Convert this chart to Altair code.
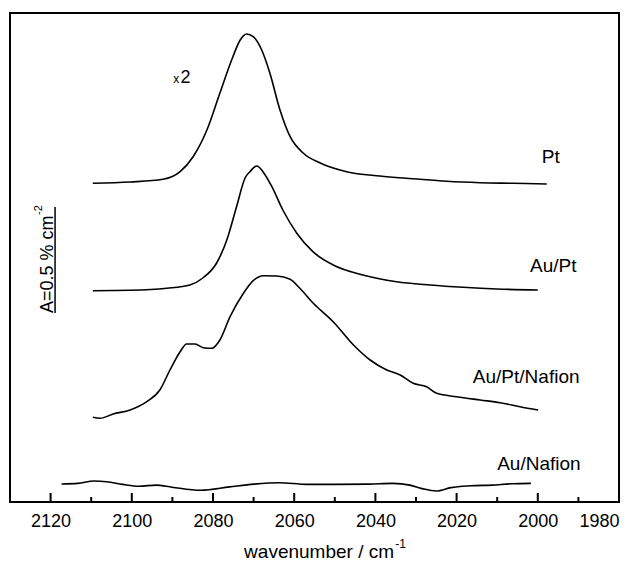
import altair as alt
import pandas as pd

# ---- data (x: wavenumber / cm-1, y: stacked absorbance, arbitrary units) ----
pt_wn = [2109.6, 2100.4, 2092.3, 2088.1, 2084.9, 2081.5, 2078.3, 2075.1, 2073.3, 2071.7, 2070.1,
         2068.0, 2066.0, 2063.5, 2061.0, 2057.8, 2053.6, 2047.1, 2038.9, 2030.7, 2022.4, 2014.2,
         2006.1, 1997.8]
pt_a = [318.7, 320, 322.7, 330.3, 345.3, 372, 409, 445.3, 462, 468, 465.3,
        452, 429, 392, 365.3, 349, 339, 330.3, 326, 323.3, 320.7, 319.3,
        318.7, 318]

aupt_wn = [2109.6, 2100.4, 2091.4, 2085.7, 2082.5, 2079.1, 2076.6, 2074.2, 2072.1, 2070.9, 2069.2,
           2067.7, 2065.5, 2062.8, 2059.4, 2055.4, 2050.4, 2043.1, 2034.8, 2026.5, 2018.4, 2010.1,
           2000.0]
aupt_a = [211.3, 211.7, 213.7, 217, 224, 239, 262, 295.3, 324, 330.3, 336,
          330.3, 315.3, 292, 269, 250.3, 237, 227, 220.3, 217, 214.7, 213,
          212]

auptnaf_wn = [2109.6, 2107.8, 2104.6, 2100.4, 2096.3, 2093.1, 2090.6, 2088.1, 2086.5, 2084.4, 2082.4,
              2080.3, 2078.3, 2075.8, 2072.5, 2070.1, 2067.6, 2064.3, 2061.0, 2058.6, 2055.3, 2050.4,
              2045.4, 2041.3, 2037.2, 2033.9, 2030.7, 2027.4, 2024.9, 2020.0, 2014.2, 2009.3, 2004.4,
              1999.9]
auptnaf_a = [84.7, 83.7, 88, 92, 100.3, 112, 132, 150.3, 158, 158, 154.3,
             153.7, 162, 185.3, 208.7, 221.3, 226.3, 226, 222.7, 213.7, 198.7, 180.3,
             157, 142, 132, 127, 118.7, 115.3, 108.7, 105.3, 102, 99.3, 95.3,
             92]

aunaf_wn = [2117.3, 2113.3, 2109.3, 2106.2, 2102.2, 2098.2, 2094.0, 2090.1, 2083.0, 2075.9, 2069.9,
            2063.7, 2056.8, 2049.7, 2041.6, 2035.7, 2031.5, 2028.5, 2025.0, 2021.4, 2016.5, 2011.3,
            2006.4, 2001.7]
aunaf_a = [18, 18.6, 21, 20.3, 17.6, 15.8, 16.9, 14.8, 11.7, 15.1, 17.9,
           19.3, 17.6, 17.6, 17.9, 18.6, 16.9, 13.4, 11, 14.4, 16.2, 16.9,
           18.2, 18.6]

series_names = ["Pt", "Au/Pt", "Au/Pt/Nafion", "Au/Nafion"]

major_ticks = [2120, 2100, 2080, 2060, 2040, 2020, 2000, 1980]
minor_ticks = [2110, 2090, 2070, 2050, 2030, 2010, 1990]

# labels: text, wavenumber (left edge), height
label_text = ["Pt", "Au/Pt", "Au/Pt/Nafion", "Au/Nafion"]
label_wn = [1999.0, 2001.9, 2016.0, 2010.0]
label_a = [345, 236, 125, 38]

X_DOMAIN = [2130, 1980]
Y_DOMAIN = [0, 489]
FONT = "Liberation Sans"

rows = []
for name, wn, a in zip(series_names,
                       [pt_wn, aupt_wn, auptnaf_wn, aunaf_wn],
                       [pt_a, aupt_a, auptnaf_a, aunaf_a]):
    for i, (w, v) in enumerate(zip(wn, a)):
        rows.append({"series": name, "wn": w, "a": v, "order": i})
df = pd.DataFrame(rows)

xs = alt.Scale(domain=X_DOMAIN, nice=False, zero=False)
ys = alt.Scale(domain=Y_DOMAIN, nice=False, zero=False)

lines = alt.Chart(df).mark_line(color="black", strokeWidth=1.6, interpolate="monotone").encode(
    x=alt.X("wn:Q", scale=xs,
            axis=alt.Axis(values=major_ticks, format="d", ticks=False, domain=False, grid=False,
                          labelFont=FONT, labelFontSize=18, labelColor="black", labelPadding=10,
                          title=None)),
    y=alt.Y("a:Q", scale=ys, axis=None),
    detail="series:N",
    order="order:Q",
)

tick_df = pd.DataFrame(
    [{"wn": t, "y0": 0, "y1": 9} for t in major_ticks] +
    [{"wn": t, "y0": 0, "y1": 5} for t in minor_ticks]
)
ticks = alt.Chart(tick_df).mark_rule(color="black", strokeWidth=2).encode(
    x=alt.X("wn:Q", scale=xs), y=alt.Y("y0:Q", scale=ys), y2="y1:Q"
)

lab_df = pd.DataFrame({"t": label_text, "wn": label_wn, "a": label_a})
labels = alt.Chart(lab_df).mark_text(align="left", baseline="middle", font=FONT, fontSize=19,
                                     color="black").encode(
    x=alt.X("wn:Q", scale=xs), y=alt.Y("a:Q", scale=ys), text="t:N"
)

# x2 annotation
x2_df = pd.DataFrame({"t": ["x", "2"], "wn": [2089.8, 2088.0], "a": [419, 419], "s": [12, 18]})
x2 = alt.Chart(x2_df).mark_text(align="left", baseline="alphabetic", font=FONT, color="black").encode(
    x=alt.X("wn:Q", scale=xs), y=alt.Y("a:Q", scale=ys), text="t:N",
    size=alt.Size("s:Q", scale=None, legend=None)
)

# scale bar
bar_df = pd.DataFrame({"wn": [2118.9], "y0": [189], "y1": [295]})
bar = alt.Chart(bar_df).mark_rule(color="black", strokeWidth=1.5).encode(
    x=alt.X("wn:Q", scale=xs), y=alt.Y("y0:Q", scale=ys), y2="y1:Q"
)
bar_txt_df = pd.DataFrame({"t": ["A=0.5 % cm", "-2"], "wn": [2119.5, 2122.2], "a": [189, 287],
                           "s": [18, 11]})
bar_txt = alt.Chart(bar_txt_df).mark_text(align="left", baseline="alphabetic", angle=270,
                                          font=FONT, color="black").encode(
    x=alt.X("wn:Q", scale=xs), y=alt.Y("a:Q", scale=ys), text="t:N",
    size=alt.Size("s:Q", scale=None, legend=None)
)

# x-axis title with superscript
title_df = pd.DataFrame({"t": ["wavenumber / cm", "-1"], "wn": [2035.4, 2035.1], "a": [-56, -46],
                         "s": [19, 12]})
title_main = alt.Chart(title_df.iloc[[0]]).mark_text(align="right", baseline="alphabetic",
                                                     font=FONT, color="black").encode(
    x=alt.X("wn:Q", scale=xs), y=alt.Y("a:Q", scale=ys), text="t:N",
    size=alt.Size("s:Q", scale=None, legend=None)
)
title_sup = alt.Chart(title_df.iloc[[1]]).mark_text(align="left", baseline="alphabetic",
                                                    font=FONT, color="black").encode(
    x=alt.X("wn:Q", scale=xs), y=alt.Y("a:Q", scale=ys), text="t:N",
    size=alt.Size("s:Q", scale=None, legend=None)
)

chart = alt.layer(lines, ticks, labels, x2, bar, bar_txt, title_main, title_sup).properties(
    width=609, height=489,
    background="white",
    padding={"left": 10, "top": 13, "right": 5, "bottom": 5},
).configure_view(stroke="black", strokeWidth=2)

chart.save("out.html", embed_options={"renderer": "svg", "actions": False})
